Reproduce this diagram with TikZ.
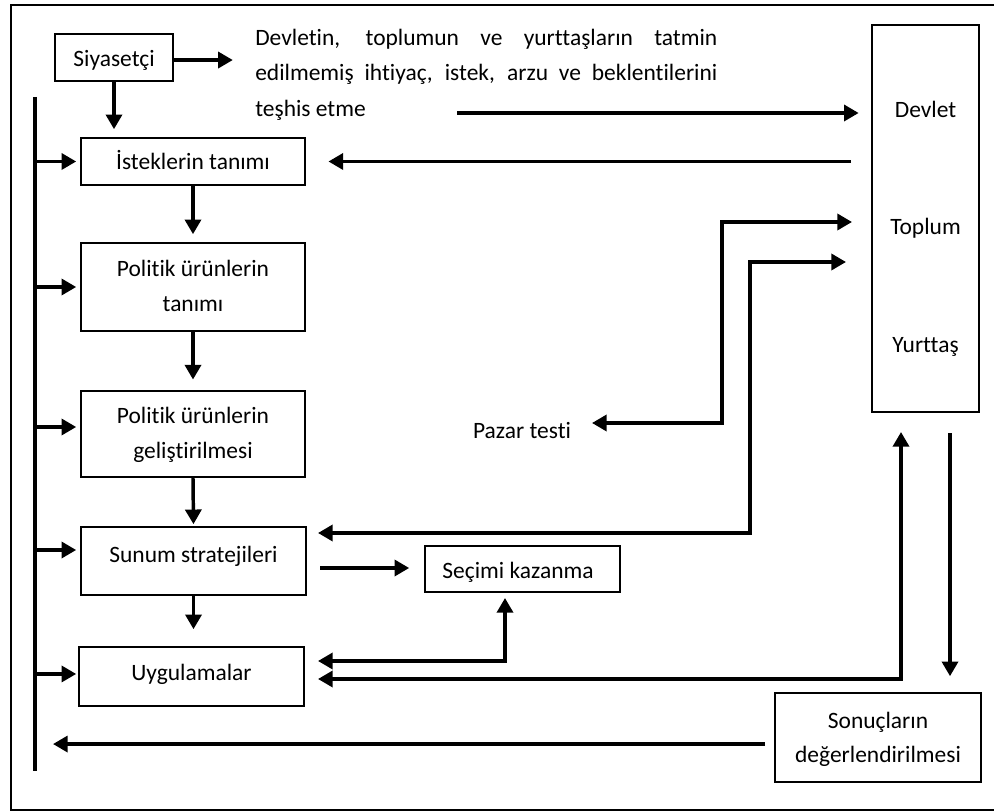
\documentclass[tikz,border=0pt]{standalone}
\usepackage{fontspec}
\setmainfont{Carlito}[Ligatures=NoCommon]
\usetikzlibrary{arrows.meta}
\begin{document}
\begin{tikzpicture}[x=0.75pt,y=-0.75pt,
  every node/.style={font=\fontsize{17.6pt}{27pt}\selectfont, inner sep=0pt},
  box/.style={draw, line width=1.2pt},
  conn/.style={line width=2.6pt},
  frame/.style={line width=1.4pt},
  >={Triangle[length=11pt,width=12pt]}]
\useasboundingbox (0,0) rectangle (994,812);

% outer frame
\draw[frame] (994,5) -- (11,5) -- (11,810) -- (994,810);

% boxes
\node[box, minimum width=88.5pt,  minimum height=35.25pt]  (siy) at (114,57.5)   {};
\node[box, minimum width=80.25pt, minimum height=290.25pt] (dev) at (925.5,218.5) {};
\node[box, minimum width=168pt,   minimum height=35.25pt]  (ist) at (193,161.5)  {};
\node[box, minimum width=168pt,   minimum height=66pt]     (pol1) at (193,287)   {};
\node[box, minimum width=168pt,   minimum height=64.5pt]   (pol2) at (193,434)   {};
\node[box, minimum width=168.75pt,minimum height=51pt]     (sun) at (193.5,561)  {};
\node[box, minimum width=168.75pt,minimum height=44.25pt]  (uyg) at (191.5,676.5) {};
\node[box, minimum width=146.25pt,minimum height=34.5pt]   (sec) at (522.5,569)  {};
\node[box, minimum width=154.5pt, minimum height=66.75pt]  (son) at (878,737.5)  {};

% labels
\node[anchor=base] (tSiy)  at (114,67)  {Siyasetçi};
\node[anchor=base] (tIst)  at (193,170) {İsteklerin tanımı};
\node[anchor=base] (tPolA) at (193,277) {Politik ürünlerin};
\node[anchor=base] (tPolB) at (193,312) {tanımı};
\node[anchor=base] (tGelA) at (193,423) {Politik ürünlerin};
\node[anchor=base] (tGelB) at (193,458) {geliştirilmesi};
\node[anchor=base] (tSun)  at (193.5,562) {Sunum stratejileri};
\node[anchor=base] (tUyg)  at (191.5,680) {Uygulamalar};
\node[anchor=base] (tSec)  at (518,578) {Seçimi kazanma};
\node[anchor=base] (tPaz)  at (522,438) {Pazar testi};
\node[anchor=base] (tSonA) at (878,728) {Sonuçların};
\node[anchor=base] (tSonB) at (878,762) {değerlendirilmesi};
\node[anchor=base] (tDev)  at (925.5,118) {Devlet};
\node[anchor=base] (tTop)  at (925.5,235) {Toplum};
\node[anchor=base] (tYur)  at (925.5,353) {Yurttaş};

\node[anchor=base west] (introA) at (255,46)
  {\makebox[346.5pt][s]{Devletin, toplumun ve yurttaşların tatmin}};
\node[anchor=base west] (introB) at (255,81)
  {\makebox[346.5pt][s]{edilmemiş ihtiyaç, istek, arzu ve beklentilerini}};
\node[anchor=base west] (introC) at (255,117) {teşhis etme};

% helper points for free connector ends
\coordinate (busTop) at (35,97);
\coordinate (busBot) at (35,771);
\coordinate (siyOut) at ([yshift=-1.9pt]siy.east);
\coordinate (tesStart) at (457,113);
\coordinate (pol2In) at ([yshift=5.25pt]pol2.west);
\coordinate (sunIn) at ([yshift=8.25pt]sun.west);
\coordinate (uygIn) at ([yshift=1.9pt]uyg.west);
\coordinate (sonOut) at ([yshift=-4.9pt]son.west);
\coordinate (pzTip) at (592,423);
\coordinate (pzCorner) at (722,222);
\coordinate (topTipA) at (852,222);
\coordinate (sunTip) at (318,533);
\coordinate (sunCorner) at (750,262);
\coordinate (topTipB) at (846,262);
\coordinate (uygTipA) at (318,661);
\coordinate (secIn) at (505,598);
\coordinate (uygTipB) at (318,679);
\coordinate (devIn) at (901,432);
\coordinate (devOut) at (950,433);
\coordinate (sunOut) at (320,568);

% main flow
\draw[conn,->] (siyOut) -- ++(59,0);
\draw[conn,->,shorten >=6pt] (siy.south) -- (siy.south |- ist.north);
\draw[conn,->,shorten >=9.4pt] (tesStart) -- (tesStart -| dev.west);
\draw[conn,->,shorten <=15pt,shorten >=17pt] (dev.west |- ist.east) -- (ist.east);
\draw[conn,->,shorten >=6pt] (ist.south) -- (pol1.north);
\draw[conn,->,shorten >=8pt] (pol1.south) -- (pol2.north);
\draw[conn,->,shorten >=1.5pt] (pol2.south) -- (sun.north);
\draw[conn,->,shorten >=12.75pt] (sun.south) -- (sun.south |- uyg.north);

% feedback bus on the left
\draw[conn] (busTop) -- (busBot);
\draw[conn,->,shorten >=3pt] (busTop |- ist.west) -- (ist.west);
\draw[conn,->,shorten >=3pt] (busTop |- pol1.west) -- (pol1.west);
\draw[conn,->,shorten >=3pt] (busTop |- pol2In) -- (pol2In);
\draw[conn,->,shorten >=3pt] (busTop |- sunIn) -- (sunIn);
\draw[conn,->,shorten >=1.5pt] (busTop |- uygIn) -- (uygIn);
\draw[conn,->,shorten <=6.75pt,shorten >=13.5pt] (sonOut) -- (busBot |- sonOut);

% links to the right-hand box
\draw[conn,<->] (pzTip) -| (pzCorner) -- (topTipA);
\draw[conn,<->] (sunTip) -| (sunCorner) -- (topTipB);
\draw[conn,<->] (uygTipA) -| (secIn);
\draw[conn,<->] (uygTipB) -| (devIn);
\draw[conn,->,shorten >=12pt] (devOut) -- (devOut |- son.north);
\draw[conn,->,shorten >=11.25pt] (sunOut) -- (sunOut -| sec.west);
\end{tikzpicture}
\end{document}
